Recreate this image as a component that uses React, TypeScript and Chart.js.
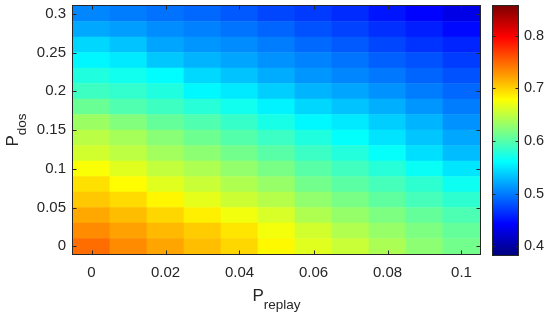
import React, { useEffect, useRef } from 'react';
import { Chart, registerables } from 'chart.js';

Chart.register(...registerables);

// ---- data ----
const xValues = [0, 0.01, 0.02, 0.03, 0.04, 0.05, 0.06, 0.07, 0.08, 0.09, 0.1];
const yValues = [0, 0.02, 0.04, 0.06, 0.08, 0.1, 0.12, 0.14, 0.16, 0.18, 0.2, 0.22, 0.24, 0.26, 0.28, 0.3];

// one row per P_dos value (bottom to top), one entry per P_replay value
const row000 = [0.747, 0.733, 0.721, 0.709, 0.698, 0.682, 0.665, 0.654, 0.640, 0.626, 0.614];
const row002 = [0.733, 0.723, 0.712, 0.703, 0.691, 0.674, 0.658, 0.643, 0.631, 0.619, 0.607];
const row004 = [0.719, 0.710, 0.698, 0.686, 0.673, 0.661, 0.642, 0.630, 0.619, 0.607, 0.596];
const row006 = [0.705, 0.696, 0.683, 0.667, 0.655, 0.645, 0.628, 0.617, 0.605, 0.593, 0.582];
const row008 = [0.693, 0.680, 0.665, 0.654, 0.642, 0.631, 0.614, 0.603, 0.593, 0.582, 0.567];
const row010 = [0.677, 0.665, 0.651, 0.641, 0.629, 0.617, 0.602, 0.591, 0.579, 0.565, 0.549];
const row012 = [0.658, 0.648, 0.636, 0.626, 0.614, 0.602, 0.588, 0.577, 0.563, 0.546, 0.530];
const row014 = [0.647, 0.638, 0.624, 0.612, 0.600, 0.588, 0.575, 0.562, 0.548, 0.534, 0.520];
const row016 = [0.633, 0.621, 0.607, 0.598, 0.586, 0.572, 0.558, 0.551, 0.538, 0.526, 0.510];
const row018 = [0.610, 0.598, 0.589, 0.579, 0.568, 0.555, 0.542, 0.533, 0.524, 0.512, 0.500];
const row020 = [0.589, 0.584, 0.575, 0.558, 0.551, 0.538, 0.526, 0.519, 0.510, 0.500, 0.490];
const row022 = [0.575, 0.568, 0.560, 0.543, 0.533, 0.522, 0.512, 0.505, 0.498, 0.489, 0.480];
const row024 = [0.557, 0.551, 0.535, 0.526, 0.519, 0.510, 0.503, 0.496, 0.487, 0.480, 0.470];
const row026 = [0.542, 0.533, 0.519, 0.512, 0.507, 0.500, 0.491, 0.484, 0.475, 0.466, 0.459];
const row028 = [0.521, 0.516, 0.508, 0.502, 0.496, 0.489, 0.480, 0.473, 0.464, 0.456, 0.446];
const row030 = [0.505, 0.500, 0.495, 0.490, 0.483, 0.475, 0.469, 0.462, 0.452, 0.443, 0.431];

const rows = [row000, row002, row004, row006, row008, row010, row012, row014,
  row016, row018, row020, row022, row024, row026, row028, row030];

const xTicks = [0, 0.02, 0.04, 0.06, 0.08, 0.1];
const yTicks = [0, 0.05, 0.1, 0.15, 0.2, 0.25, 0.3];
const cbTicks = [0.4, 0.5, 0.6, 0.7, 0.8];
const cMin = 0.383;
const cMax = 0.857;
const xTitle = { main: 'P', sub: 'replay' };
const yTitle = { main: 'P', sub: 'dos' };

// ---- styling ----
const FONT = '"Liberation Sans", Arial, Helvetica, sans-serif';
const TEXT = '#262626';
const dx = 0.01;
const dy = 0.02;

function clamp01(v: number) { return Math.max(0, Math.min(1, v)); }
function jetAt(t: number) {
  const r = clamp01(Math.min(4 * t - 1.5, -4 * t + 4.5));
  const g = clamp01(Math.min(4 * t - 0.5, -4 * t + 3.5));
  const b = clamp01(Math.min(4 * t + 0.5, -4 * t + 2.5));
  return `rgb(${Math.round(r * 255)},${Math.round(g * 255)},${Math.round(b * 255)})`;
}
function jet(v: number) { return jetAt(clamp01((v - cMin) / (cMax - cMin))); }

function fixScale(size: { w?: number; h?: number }) {
  return (s: any) => {
    if (size.w !== undefined) s.width = size.w;
    if (size.h !== undefined) s.height = size.h;
    s.paddingLeft = 0; s.paddingRight = 0; s.paddingTop = 0; s.paddingBottom = 0;
  };
}

const frameAndTicks = {
  id: 'frameAndTicks',
  afterDatasetsDraw(chart: any) {
    const { ctx, chartArea: a, scales } = chart;
    ctx.save();
    ctx.strokeStyle = TEXT;
    ctx.lineWidth = 1;
    const L = Math.round(a.left) - 0.5, R = Math.round(a.right) + 0.5;
    const T = Math.round(a.top) - 0.5, B = Math.round(a.bottom) + 0.5;
    ctx.strokeRect(L, T, R - L, B - T);
    const tl = 4;
    ctx.beginPath();
    for (const v of xTicks) {
      const px = Math.round(scales.x.getPixelForValue(v)) + 0.5;
      ctx.moveTo(px, B); ctx.lineTo(px, B - tl);
      ctx.moveTo(px, T); ctx.lineTo(px, T + tl);
    }
    for (const v of yTicks) {
      const py = Math.round(scales.y.getPixelForValue(v)) + 0.5;
      ctx.moveTo(L, py); ctx.lineTo(L + tl, py);
      ctx.moveTo(R, py); ctx.lineTo(R - tl, py);
    }
    ctx.stroke();
    ctx.restore();
  },
  afterDraw(chart: any) {
    const { ctx, chartArea: a } = chart;
    ctx.save();
    ctx.fillStyle = TEXT;
    ctx.textBaseline = 'alphabetic';
    ctx.textAlign = 'left';
    const mainFont = `17px ${FONT}`;
    const subFont = `13.5px ${FONT}`;
    // x title
    ctx.font = mainFont;
    const wP = ctx.measureText(xTitle.main).width;
    ctx.font = subFont;
    const wS = ctx.measureText(xTitle.sub).width;
    const cx = (a.left + a.right) / 2;
    const x0 = cx - (wP + wS) / 2;
    ctx.font = mainFont;
    ctx.fillText(xTitle.main, x0, 301);
    ctx.font = subFont;
    ctx.fillText(xTitle.sub, x0 + wP, 309);
    // y title
    ctx.font = mainFont;
    const wP2 = ctx.measureText(yTitle.main).width;
    ctx.font = subFont;
    const wS2 = ctx.measureText(yTitle.sub).width;
    const cy = (a.top + a.bottom) / 2;
    ctx.translate(17.5, cy);
    ctx.rotate(-Math.PI / 2);
    const s0 = -(wP2 + wS2) / 2;
    ctx.font = mainFont;
    ctx.fillText(yTitle.main, s0, 0);
    ctx.font = subFont;
    ctx.fillText(yTitle.sub, s0 + wP2, 8);
    ctx.restore();
  },
};

const colorbarFill = {
  id: 'colorbarFill',
  beforeDatasetsDraw(chart: any) {
    const { ctx, chartArea: a, scales } = chart;
    const yTop = scales.y.getPixelForValue(cMax);
    const yBot = scales.y.getPixelForValue(cMin);
    const g = ctx.createLinearGradient(0, yBot, 0, yTop);
    const n = 64;
    for (let i = 0; i <= n; i++) g.addColorStop(i / n, jetAt(i / n));
    ctx.save();
    ctx.fillStyle = g;
    ctx.fillRect(a.left, yTop, a.right - a.left, yBot - yTop);
    ctx.restore();
  },
  afterDatasetsDraw(chart: any) {
    const { ctx, chartArea: a, scales } = chart;
    ctx.save();
    ctx.strokeStyle = TEXT;
    ctx.lineWidth = 1;
    const L = Math.round(a.left) - 0.5, R = Math.round(a.right) + 0.5;
    const T = Math.round(a.top) - 0.5, B = Math.round(a.bottom) + 0.5;
    ctx.strokeRect(L, T, R - L, B - T);
    ctx.beginPath();
    for (const v of cbTicks) {
      const py = Math.round(scales.y.getPixelForValue(v)) + 0.5;
      ctx.moveTo(L, py); ctx.lineTo(L + 3, py);
      ctx.moveTo(R, py); ctx.lineTo(R - 3, py);
    }
    ctx.stroke();
    ctx.restore();
  },
};

export default function App() {
  const mainRef = useRef<HTMLCanvasElement | null>(null);
  const cbRef = useRef<HTMLCanvasElement | null>(null);

  useEffect(() => {
    const datasets = rows.map((vals, j) => ({
      label: 'P_dos=' + yValues[j],
      data: xValues.map((x) => ({ x, y: [yValues[j] - dy / 2, yValues[j] + dy / 2] })),
      backgroundColor: vals.map(jet),
      borderWidth: 0,
      barPercentage: 1,
      categoryPercentage: 1,
      grouped: false,
    }));

    const main = new Chart(mainRef.current as HTMLCanvasElement, {
      type: 'bar',
      data: { datasets: datasets as any },
      options: {
        animation: false,
        responsive: false,
        events: [],
        layout: { padding: { top: 6, left: 0, right: 10, bottom: 0 } },
        plugins: { legend: { display: false }, tooltip: { enabled: false }, title: { display: false } },
        scales: {
          x: {
            type: 'linear',
            min: xValues[0] - dx / 2,
            max: xValues[xValues.length - 1] + dx / 2,
            offset: false,
            grid: { display: false, drawTicks: false },
            border: { display: false },
            ticks: {
              color: TEXT, font: { family: FONT, size: 15 }, padding: 10,
              maxRotation: 0, autoSkip: false, callback: (v: any) => String(v),
            },
            afterBuildTicks: (s: any) => { s.ticks = xTicks.map((v) => ({ value: v })); },
            afterFit: fixScale({ h: 65 }),
          },
          y: {
            type: 'linear',
            min: yValues[0] - dy / 2,
            max: yValues[yValues.length - 1] + dy / 2,
            grid: { display: false, drawTicks: false },
            border: { display: false },
            ticks: {
              color: TEXT, font: { family: FONT, size: 15 }, padding: 7,
              autoSkip: false, callback: (v: any) => String(v),
            },
            afterBuildTicks: (s: any) => { s.ticks = yTicks.map((v) => ({ value: v })); },
            afterFit: fixScale({ w: 73 }),
          },
        },
      },
      plugins: [frameAndTicks],
    });

    const cb = new Chart(cbRef.current as HTMLCanvasElement, {
      type: 'scatter',
      data: { datasets: [] },
      options: {
        animation: false,
        responsive: false,
        events: [],
        layout: { padding: { top: 6, left: 13, right: 0, bottom: 64 } },
        plugins: { legend: { display: false }, tooltip: { enabled: false } },
        scales: {
          x: { type: 'linear', display: false, min: 0, max: 1 },
          y: {
            type: 'linear',
            position: 'right',
            min: cMin,
            max: cMax,
            grid: { display: false, drawTicks: false },
            border: { display: false },
            ticks: {
              color: TEXT, font: { family: FONT, size: 14.5 }, padding: 6,
              autoSkip: false, callback: (v: any) => String(v),
            },
            afterBuildTicks: (s: any) => { s.ticks = cbTicks.map((v) => ({ value: v })); },
            afterFit: fixScale({ w: 32 }),
          },
        },
      },
      plugins: [colorbarFill],
    });

    return () => { main.destroy(); cb.destroy(); };
  }, []);

  return (
    <div style={{ position: 'absolute', left: 0, top: 0, width: 550, height: 319, background: '#fff' }}>
      <canvas ref={mainRef} width={490} height={319}
        style={{ position: 'absolute', left: 0, top: 0, width: 490, height: 319 }} />
      <canvas ref={cbRef} width={70} height={319}
        style={{ position: 'absolute', left: 480, top: 0, width: 70, height: 319 }} />
    </div>
  );
}
